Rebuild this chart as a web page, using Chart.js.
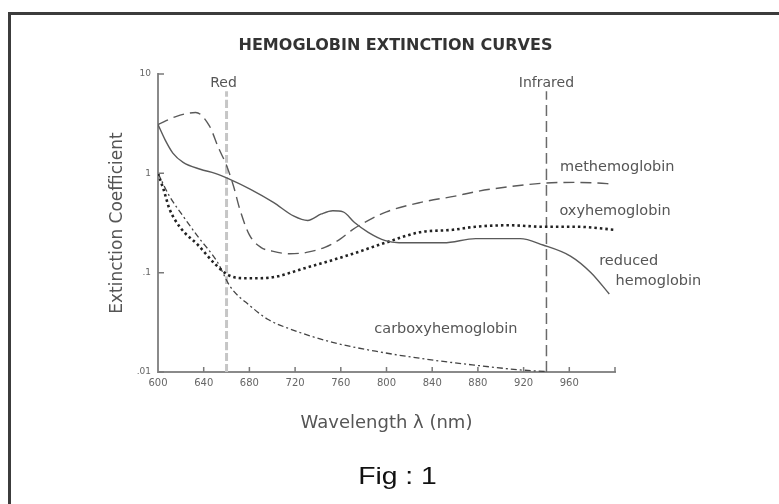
<!DOCTYPE html>
<html>
<head>
<meta charset="utf-8">
<script src="https://cdn.jsdelivr.net/npm/chart.js@4.4.1/dist/chart.umd.min.js"></script>
<style>
  html, body { margin: 0; padding: 0; background: #fff; }
  #wrap { position: relative; width: 779px; height: 504px; overflow: hidden; }
  #frame { position: absolute; left: 8px; top: 12px; width: 900px; height: 600px;
           border-left: 3px solid #3c3c3c; border-top: 3px solid #3c3c3c; }
  canvas { position: absolute; left: 0; top: 0; }
</style>
</head>
<body>
<div id="wrap"><div id="frame"></div><canvas id="c" width="779" height="504"></canvas></div>
<script>
// Axis ticks
const xTickValues = [600, 640, 680, 720, 760, 800, 840, 880, 920, 960, 1000];
const xTickLabels = ['600', '640', '680', '720', '760', '800', '840', '880', '920', '960', ''];
const yTickValues = [0.01, 0.1, 1, 10];
const yTickLabels = ['.01', '.1', '1', '10'];

// Methemoglobin
const metWavelengths = [600, 615, 633, 645, 653, 660, 666, 672, 680, 690, 700, 715, 730, 746, 760, 770, 785, 800, 830, 860, 880, 910, 940, 965, 985, 997];
const metValues      = [3.1, 3.7, 4.1, 3.0, 1.8, 1.2, 0.75, 0.42, 0.24, 0.18, 0.165, 0.155, 0.16, 0.18, 0.22, 0.27, 0.34, 0.41, 0.51, 0.59, 0.66, 0.74, 0.80, 0.81, 0.80, 0.78];

// Oxyhemoglobin
const oxyWavelengths = [600, 605, 610, 620, 635, 650, 662, 675, 690, 705, 725, 749, 769, 799, 829, 858, 878, 908, 937, 966, 1000];
const oxyValues      = [1.0, 0.68, 0.44, 0.28, 0.19, 0.122, 0.094, 0.088, 0.088, 0.092, 0.108, 0.13, 0.153, 0.2, 0.255, 0.27, 0.29, 0.30, 0.29, 0.29, 0.27];

// Reduced hemoglobin
const redWavelengths = [600, 606, 613, 622, 637, 650, 662, 681, 701, 719, 731, 743, 753, 762, 772, 784, 799, 811, 850, 878, 917, 937, 961, 979, 995];
const redValues      = [3.1, 2.2, 1.6, 1.29, 1.1, 1.0, 0.88, 0.69, 0.51, 0.37, 0.335, 0.39, 0.42, 0.41, 0.32, 0.255, 0.21, 0.2, 0.2, 0.22, 0.22, 0.19, 0.147, 0.1, 0.061];

// Carboxyhemoglobin
const carWavelengths = [600, 610, 622, 635, 652, 663, 681, 696, 716, 752, 793, 834, 875, 917, 940];
const carValues      = [1.0, 0.59, 0.37, 0.23, 0.128, 0.073, 0.046, 0.034, 0.027, 0.02, 0.016, 0.0135, 0.0118, 0.0105, 0.0101];

// Measurement wavelengths (LED bands) and the span of their marker lines
const markerWavelengths = [660, 940];
const markerNames = ['Red', 'Infrared'];
const markerSpan = [0.01, 6.7];

const pts = (xs, ys) => xs.map((x, i) => ({ x, y: ys[i] }));

const FONT = '"DejaVu Sans", sans-serif';

// Text annotations placed in data space
const curveLabels = [
  { text: 'methemoglobin',     x: 1002, y: 1.15 },
  { text: 'oxyhemoglobin',     x: 1000, y: 0.415 },
  { text: 'reduced',           x: 1012, y: 0.13 },
  { text: 'hemoglobin',        x: 1038, y: 0.082 },
  { text: 'carboxyhemoglobin', x: 852,  y: 0.027 }
];

const tickMarks = {
  id: 'tickMarks',
  afterDraw(chart) {
    const { ctx, chartArea: a, scales: { x, y } } = chart;
    ctx.save();
    ctx.strokeStyle = '#7a7a7a';
    ctx.lineWidth = 1.5;
    ctx.beginPath();
    y.ticks.forEach(t => {
      const py = y.getPixelForValue(t.value);
      ctx.moveTo(a.left, py); ctx.lineTo(a.left + 6, py);
    });
    x.ticks.forEach(t => {
      if (t.value === x.min) return;
      const px = x.getPixelForValue(t.value);
      ctx.moveTo(px, a.bottom); ctx.lineTo(px, a.bottom - 5);
    });
    ctx.stroke();
    ctx.restore();
  }
};

const textLayer = {
  id: 'textLayer',
  afterDraw(chart) {
    const { ctx, scales: { x, y } } = chart;
    ctx.save();
    ctx.textAlign = 'center';
    ctx.textBaseline = 'middle';

    // chart heading
    ctx.fillStyle = '#333';
    ctx.font = 'bold 16px ' + FONT;
    ctx.fillText('HEMOGLOBIN EXTINCTION CURVES', chart.width / 2 + 6, 46);

    // marker names above the band lines
    ctx.fillStyle = '#555';
    ctx.font = '14px ' + FONT;
    markerWavelengths.forEach((w, i) => {
      ctx.fillText(markerNames[i], x.getPixelForValue(w) - (i === 0 ? 3 : 0), y.getPixelForValue(8.0));
    });

    // curve names
    ctx.font = '14.5px ' + FONT;
    curveLabels.forEach(l => {
      ctx.fillText(l.text, x.getPixelForValue(l.x), y.getPixelForValue(l.y));
    });

    // figure caption
    ctx.fillStyle = '#111';
    ctx.font = '24px "Liberation Sans", Arial, sans-serif';
    ctx.translate(chart.width / 2 + 8, 477);
    ctx.scale(1.18, 1);
    ctx.fillText('Fig : 1', 0, 0);
    ctx.restore();
  }
};

const markerDatasets = markerWavelengths.map((w, i) => ({
  label: markerNames[i],
  data: pts([w, w], markerSpan),
  borderColor: i === 0 ? '#c6c6c6' : '#6a6a6a',
  borderWidth: i === 0 ? 3 : 1.5,
  borderDash: i === 0 ? [8, 3] : [11, 5],
  pointRadius: 0,
  order: 10
}));

new Chart(document.getElementById('c'), {
  type: 'line',
  data: {
    datasets: [
      ...markerDatasets,
      { label: 'methemoglobin', data: pts(metWavelengths, metValues),
        borderColor: '#5a5a5a', borderWidth: 1.4, borderDash: [11, 6], order: 1 },
      { label: 'reduced hemoglobin', data: pts(redWavelengths, redValues),
        borderColor: '#5a5a5a', borderWidth: 1.4, order: 2 },
      { label: 'oxyhemoglobin', data: pts(oxyWavelengths, oxyValues),
        borderColor: '#222', borderWidth: 2.6, borderDash: [2.5, 3], order: 3 },
      { label: 'carboxyhemoglobin', data: pts(carWavelengths, carValues),
        borderColor: '#444', borderWidth: 1.3, borderDash: [6, 3, 2, 3], order: 4 }
    ]
  },
  options: {
    responsive: false,
    animation: false,
    layout: { padding: { left: 100, right: 164, top: 74, bottom: 54 } },
    elements: {
      point: { radius: 0 },
      line: { cubicInterpolationMode: 'monotone', fill: false }
    },
    plugins: { legend: { display: false }, title: { display: false }, tooltip: { enabled: false } },
    scales: {
      x: {
        type: 'linear', min: 600, max: 1000,
        afterBuildTicks: s => { s.ticks = xTickValues.map(v => ({ value: v })); },
        afterFit: s => { s.height = 78; },
        ticks: { autoSkip: false, maxRotation: 0, padding: 5, color: '#666',
                 font: { family: FONT, size: 10 },
                 callback: (v, i) => xTickLabels[i] },
        grid: { drawOnChartArea: false, drawTicks: false },
        border: { display: true, color: '#8a8a8a', width: 2 },
        title: { display: true, text: 'Wavelength λ (nm)', color: '#555',
                 font: { family: FONT, size: 18 }, padding: { top: 0, bottom: 16 } }
      },
      y: {
        type: 'logarithmic', min: 0.01, max: 10,
        afterBuildTicks: s => { s.ticks = yTickValues.map(v => ({ value: v })); },
        afterFit: s => { s.width = 58; },
        ticks: { autoSkip: false, padding: 7, color: '#666',
                 font: { family: FONT, size: 9 },
                 callback: (v, i) => yTickLabels[i] },
        grid: { drawOnChartArea: false, drawTicks: false },
        border: { display: true, color: '#8a8a8a', width: 2 },
        title: { display: true, text: 'Extinction Coefficient', color: '#555',
                 font: { family: FONT, size: 17 }, padding: { top: 7, bottom: 0 } }
      }
    }
  },
  plugins: [tickMarks, textLayer]
});
</script>
</body>
</html>
